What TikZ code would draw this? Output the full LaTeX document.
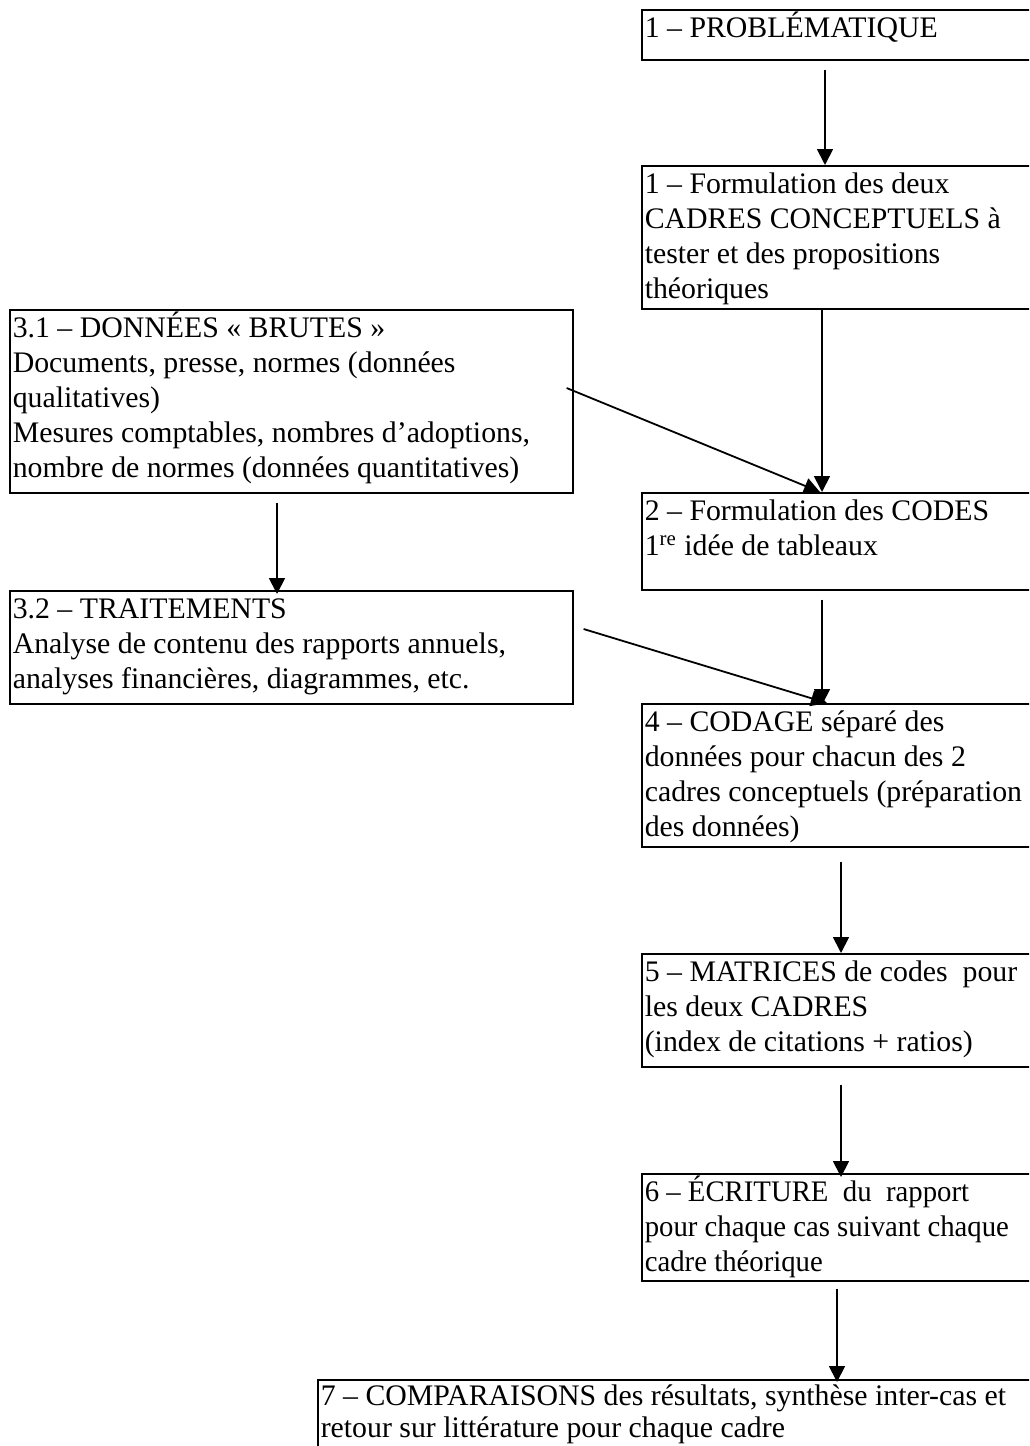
\documentclass[tikz,border=0pt]{standalone}
\usepackage{fontspec}
\setmainfont{Liberation Serif}
\newfontfamily\narrowserif[FakeStretch=0.965]{Liberation Serif}
\usetikzlibrary{arrows.meta,calc}
\newcommand{\bxtext}[4][14pt]{\parbox[t][#2][t]{#3}{\raggedright\rule{0pt}{#1}#4}}
\begin{document}
\begin{tikzpicture}[x=0.5pt,y=-0.5pt,
  box/.style={draw, line width=0.8pt, anchor=north west, inner xsep=1.5pt, inner ysep=0pt,
    font=\fontsize{14.9pt}{17.5pt}\selectfont},
  arr/.style={line width=0.9pt, -{Triangle[width=8pt,length=8pt]}}]
\useasboundingbox (0,0) rectangle (1029,1446);
\clip (0,0) rectangle (1029,1446);
\fill[white] (0,0) rectangle (1029,1446);
\node[box] (n1) at (641,9) {\bxtext{25pt}{196.5pt}{1 – PROBLÉMATIQUE}};
\node[box] (n2) at (641,165) {\bxtext{71.5pt}{196.5pt}{1 – Formulation des deux\\CADRES CONCEPTUELS à\\tester et des propositions\\théoriques}};
\node[box] (n31) at (9,309) {\bxtext{91.5pt}{278.5pt}{3.1 – DONNÉES « BRUTES »\\Documents, presse, normes (données\\qualitatives)\\Mesures comptables, nombres d’adoptions,\\nombre de normes (données quantitatives)}};
\node[box] (n3) at (641,492) {\bxtext{48.5pt}{196.5pt}{2 – Formulation des CODES\\1\textsuperscript{re} idée de tableaux}};
\node[box] (n32) at (9,590) {\bxtext{56.5pt}{278.5pt}{3.2 – TRAITEMENTS\\Analyse de contenu des rapports annuels,\\analyses financières, diagrammes, etc.}};
\node[box] (n4) at (641,703) {\bxtext{71.5pt}{196.5pt}{4 – CODAGE séparé des\\données pour chacun des 2\\cadres conceptuels (préparation\\des données)}};
\node[box] (n5) at (641,953) {\bxtext{56.5pt}{196.5pt}{5 – MATRICES de codes\ \ pour\\les deux CADRES\\(index de citations + ratios)}};
\node[box, font=\narrowserif\fontsize{14.9pt}{17.5pt}\selectfont] (n6) at (641,1173) {\bxtext{53.5pt}{196.5pt}{6 – ÉCRITURE\ \ du\ \ rapport\\pour chaque cas suivant chaque\\cadre théorique}};
\node[box, font=\fontsize{14.9pt}{16pt}\selectfont] (n7) at (317,1379) {\bxtext[13pt]{40pt}{358.5pt}{7 – COMPARAISONS des résultats, synthèse inter-cas et\\retour sur littérature pour chaque cadre}};
\draw[arr] ($(n1.south west)+(184,9)$) -- ($(n2.north west)+(184,0)$);
\draw[arr] ($(n2.south west)+(181,0)$) -- ($(n3.north west)+(181,0)$);
\draw[arr] ($(n31.north east)+(-7,79)$) -- ($(n3.north west)+(179,0)$);
\draw[arr] ($(n31.south west)+(268,9)$) -- ($(n32.north west)+(268,4)$);
\draw[arr] ($(n3.south west)+(181,9)$) -- ($(n4.north west)+(181,2)$);
\draw[arr] ($(n32.north east)+(10,39)$) -- ($(n4.north west)+(186,0)$);
\draw[arr] ($(n4.south west)+(200,14)$) -- ($(n5.north west)+(200,0)$);
\draw[arr] ($(n5.south west)+(200,17)$) -- ($(n6.north west)+(200,4)$);
\draw[arr] ($(n6.south west)+(196,7)$) -- ($(n7.north west)+(520,3)$);
\end{tikzpicture}
\end{document}
